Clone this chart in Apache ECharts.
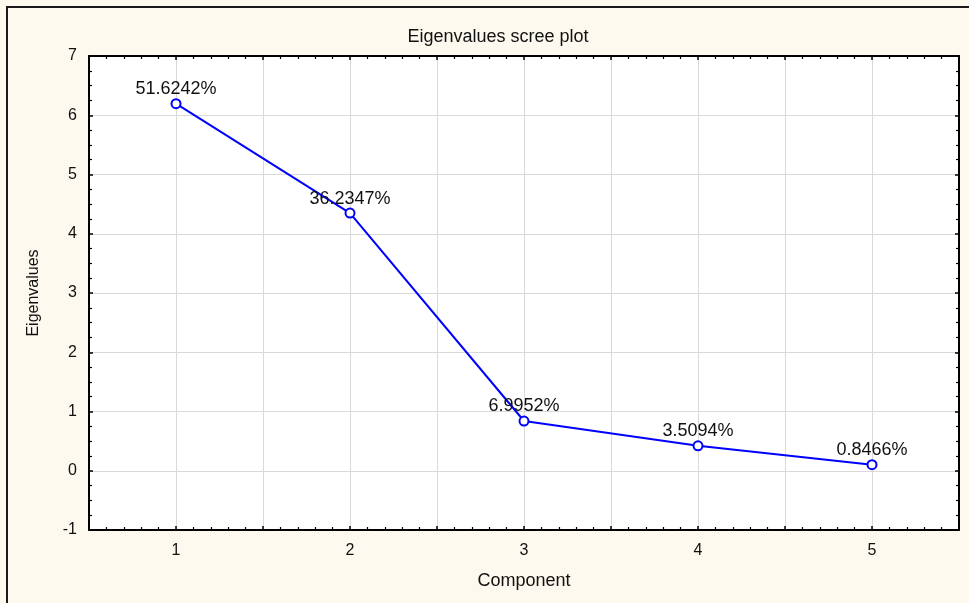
<!DOCTYPE html>
<html>
<head>
<meta charset="utf-8">
<script src="https://cdn.jsdelivr.net/npm/echarts@6/dist/echarts.min.js"></script>
<style>
  html, body { margin: 0; padding: 0; background: #fef9ee; }
  #chart { width: 969px; height: 603px; }
</style>
</head>
<body>
<div id="chart"></div>
<script>
// Scree plot data: component index, eigenvalue and share of variance
const components = [1, 2, 3, 4, 5];
const eigenvalues = [6.1949, 4.3482, 0.8394, 0.4211, 0.1016];
const varianceLabels = ['51.6242%', '36.2347%', '6.9952%', '3.5094%', '0.8466%'];
const yTicks = [-1, 0, 1, 2, 3, 4, 5, 6, 7];

const FONT = '"Liberation Sans", Arial, sans-serif';
const chart = echarts.init(document.getElementById('chart'));

const tickStyle = { color: '#000', width: 1.5 };
const baseX = {
  type: 'value', min: 0.5, max: 5.5, interval: 0.5,
  axisLine: { show: true, onZero: false, lineStyle: { color: '#000', width: 2 } },
  axisTick: { show: true, inside: true, length: 4, lineStyle: tickStyle },
  minorTick: { show: true, splitNumber: 5, length: 3, lineStyle: { color: '#000', width: 1.2 } }
};
const baseY = {
  type: 'value', min: yTicks[0], max: yTicks[yTicks.length - 1], interval: 1,
  axisLine: { show: true, onZero: false, lineStyle: { color: '#000', width: 2 } },
  axisTick: { show: true, inside: true, length: 4, lineStyle: tickStyle },
  minorTick: { show: true, splitNumber: 4, length: 3, lineStyle: { color: '#000', width: 1.2 } }
};

chart.setOption({
  backgroundColor: '#fef9ee',
  animation: false,
  title: {
    text: 'Eigenvalues scree plot',
    left: 493, top: 23, textAlign: 'center',
    textStyle: { fontFamily: FONT, fontSize: 18, fontWeight: 'normal', color: '#111' }
  },
  graphic: [{
    type: 'rect', silent: true,
    shape: { x: 7, y: 7, width: 980, height: 620 },
    style: { fill: null, stroke: '#1a1a1a', lineWidth: 2 }
  }],
  grid: {
    left: 89, top: 56, right: 10, bottom: 73,
    show: true, backgroundColor: '#ffffff', borderWidth: 0
  },
  xAxis: [
    Object.assign({}, baseX, {
      position: 'bottom',
      name: 'Component', nameLocation: 'middle', nameGap: 42,
      nameTextStyle: { fontFamily: FONT, fontSize: 18, color: '#111' },
      axisLabel: {
        fontFamily: FONT, fontSize: 16, color: '#111', margin: 13,
        formatter: v => (Number.isInteger(v) && components.includes(v)) ? String(v) : ''
      },
      splitLine: { show: true, lineStyle: { color: '#d9d9d9', width: 1 } }
    }),
    Object.assign({}, baseX, {
      position: 'top',
      axisLabel: { show: false },
      splitLine: { show: false }
    })
  ],
  yAxis: [
    Object.assign({}, baseY, {
      position: 'left',
      name: 'Eigenvalues', nameLocation: 'middle', nameGap: 47,
      nameTextStyle: { fontFamily: FONT, fontSize: 16, color: '#111' },
      axisLabel: { fontFamily: FONT, fontSize: 16, color: '#111', margin: 12 },
      splitLine: { show: true, lineStyle: { color: '#d9d9d9', width: 1 } }
    }),
    Object.assign({}, baseY, {
      position: 'right',
      axisLabel: { show: false },
      splitLine: { show: false }
    })
  ],
  series: [{
    type: 'line',
    xAxisIndex: 0, yAxisIndex: 0,
    data: components.map((c, i) => [c, eigenvalues[i]]),
    symbol: 'emptyCircle', symbolSize: 9,
    lineStyle: { color: '#0000ff', width: 2 },
    itemStyle: { color: '#0000ff', borderColor: '#0000ff', borderWidth: 2 },
    label: {
      show: true, position: 'top', distance: 0,
      fontFamily: FONT, fontSize: 18, color: '#111',
      formatter: p => varianceLabels[p.dataIndex]
    },
    z: 5
  }]
});
</script>
</body>
</html>
